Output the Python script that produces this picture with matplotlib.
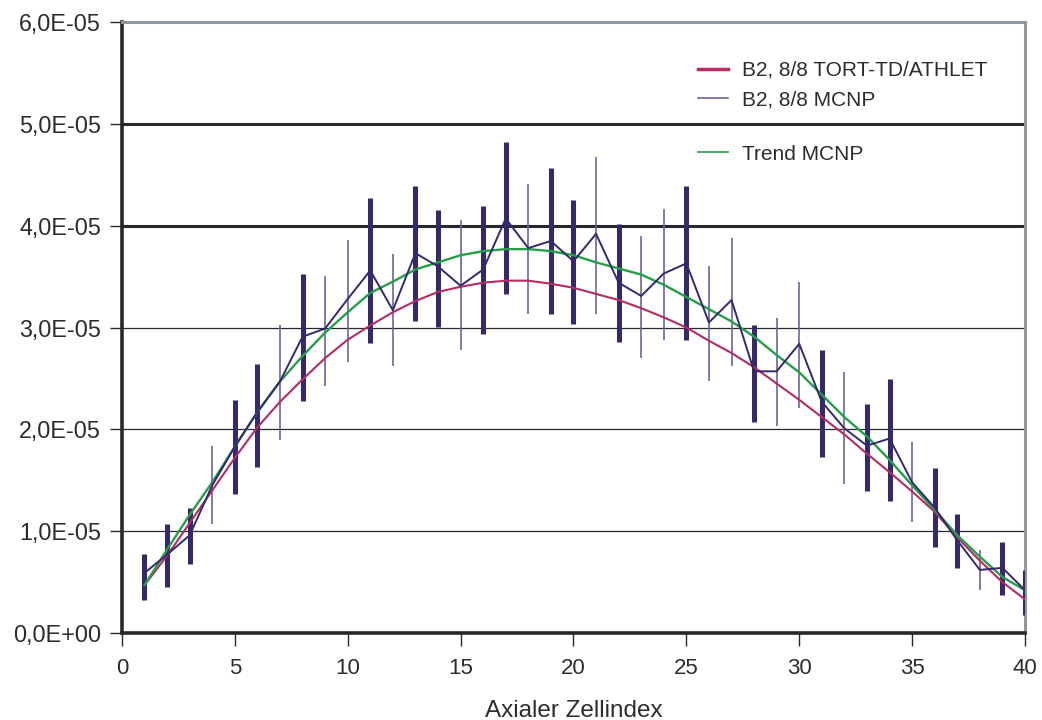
import matplotlib
matplotlib.use("Agg")
import matplotlib.pyplot as plt
from matplotlib.lines import Line2D
from matplotlib.ticker import FuncFormatter, MultipleLocator

# ---------------- data ----------------
cell = list(range(1, 41))

tort_athlet = [0.47, 0.76, 1.08, 1.40, 1.72, 2.02, 2.27, 2.49, 2.70, 2.88,
               3.02, 3.15, 3.26, 3.35, 3.40, 3.44, 3.46, 3.46, 3.43, 3.39,
               3.33, 3.27, 3.19, 3.10, 3.00, 2.87, 2.75, 2.61, 2.45, 2.29,
               2.12, 1.95, 1.76, 1.58, 1.39, 1.19, 0.94, 0.71, 0.50, 0.33]

mcnp = [0.59, 0.77, 0.96, 1.45, 1.83, 2.17, 2.47, 2.91, 2.99, 3.28,
        3.56, 3.17, 3.73, 3.60, 3.41, 3.57, 4.07, 3.78, 3.85, 3.65,
        3.92, 3.44, 3.31, 3.53, 3.63, 3.05, 3.27, 2.57, 2.57, 2.84,
        2.27, 2.01, 1.84, 1.91, 1.48, 1.23, 0.91, 0.62, 0.64, 0.42]

mcnp_hi = [0.78, 1.07, 1.23, 1.84, 2.29, 2.64, 3.02, 3.53, 3.51, 3.86,
           4.27, 3.72, 4.39, 4.15, 4.06, 4.19, 4.82, 4.41, 4.57, 4.25,
           4.67, 4.02, 3.90, 4.16, 4.39, 3.60, 3.88, 3.02, 3.09, 3.45,
           2.78, 2.56, 2.25, 2.49, 1.88, 1.62, 1.17, 0.82, 0.89, 0.62]

mcnp_lo = [0.32, 0.45, 0.68, 1.07, 1.37, 1.63, 1.90, 2.28, 2.43, 2.66,
           2.85, 2.62, 3.06, 3.01, 2.78, 2.94, 3.33, 3.13, 3.13, 3.03,
           3.13, 2.86, 2.70, 2.88, 2.88, 2.47, 2.62, 2.07, 2.03, 2.21,
           1.73, 1.46, 1.39, 1.30, 1.09, 0.84, 0.64, 0.42, 0.37, 0.18]

trend_mcnp = [0.47, 0.82, 1.16, 1.48, 1.83, 2.17, 2.47, 2.72, 2.95, 3.15,
              3.34, 3.45, 3.57, 3.64, 3.71, 3.75, 3.77, 3.77, 3.75, 3.71,
              3.64, 3.58, 3.52, 3.42, 3.30, 3.18, 3.06, 2.91, 2.73, 2.56,
              2.34, 2.12, 1.93, 1.70, 1.45, 1.21, 0.96, 0.75, 0.55, 0.42]

scale = 1e-5
labels = ["B2, 8/8 TORT-TD/ATHLET", "B2, 8/8 MCNP", "Trend MCNP"]
xlabel = "Axialer Zellindex"

# ---------------- style ----------------
plt.rcParams['font.family'] = ['Liberation Sans', 'DejaVu Sans']
c_red = "#b82a62"
c_navy = "#35286f"
c_navy_light = "#6d62a6"
c_green = "#23a046"
c_text = "#2a2d30"
c_axis = "#25292c"
# thick (True) / thin (False) error bars as seen in the scan
bar_thick = [True, True, True, False, True, True, False, True, False, False,
             True, False, True, True, False, True, True, False, True, True,
             False, True, False, False, True, False, False, True, False, False,
             True, False, True, True, False, True, True, False, True, True]

fig = plt.figure(figsize=(10.42, 7.2), dpi=100)
ax = fig.add_axes([0.117, 0.1208, 0.8667, 0.8486])

ys = lambda arr: [v * scale for v in arr]

# grid lines
for g in [1, 2, 3]:
    ax.axhline(g * scale, color=c_axis, lw=0.9, zorder=1)
for g in [4, 5]:
    ax.axhline(g * scale, color=c_axis, lw=2.2, zorder=1)

# error bars
for xi, lo, hi, thick in zip(cell, mcnp_lo, mcnp_hi, bar_thick):
    ax.vlines(xi, lo * scale, hi * scale,
              color=c_navy if thick else c_navy_light,
              lw=3.6 if thick else 1.2, zorder=3)

ax.plot(cell, ys(tort_athlet), color=c_red, lw=1.5, zorder=4)
ax.plot(cell, ys(trend_mcnp), color=c_green, lw=1.7, zorder=4)
ax.plot(cell, ys(mcnp), color=c_navy, lw=1.4, zorder=5)

ax.set_xlim(0, 40)
ax.set_ylim(0, 6 * scale)
ax.xaxis.set_major_locator(MultipleLocator(5))
ax.yaxis.set_major_locator(MultipleLocator(1 * scale))

def yfmt(v, pos):
    s = "%.1E" % v
    return s.replace(".", ",")
ax.yaxis.set_major_formatter(FuncFormatter(yfmt))

ax.tick_params(axis='both', direction='out', colors=c_axis, labelcolor=c_text,
               labelsize=16, length=9, width=1.0)
ax.tick_params(axis='y', labelsize=16.8, pad=6)
ax.tick_params(axis='x', pad=9)
for sp in ['left', 'bottom']:
    ax.spines[sp].set_color(c_axis)
    ax.spines[sp].set_linewidth(2.6)
for sp in ['top', 'right']:
    ax.spines[sp].set_color("#8f979c")
    ax.spines[sp].set_linewidth(2.2)

ax.set_xlabel(xlabel, fontsize=17.5, color=c_text, labelpad=15)

# legend (two blocks: entries 1-2 and entry 3 separated by a gap)
h1 = [Line2D([], [], color=c_red, lw=2.5), Line2D([], [], color=c_navy_light, lw=1.2)]
leg1 = ax.legend(h1, labels[:2], loc='upper left', bbox_to_anchor=(0.617, 0.967),
                 frameon=False, fontsize=15, handlelength=1.45, labelspacing=0.5,
                 handletextpad=0.65, labelcolor=c_text)
ax.add_artist(leg1)
h2 = [Line2D([], [], color=c_green, lw=1.2)]
ax.legend(h2, labels[2:], loc='upper left', bbox_to_anchor=(0.617, 0.830),
          frameon=False, fontsize=15, handlelength=1.45,
          handletextpad=0.65, labelcolor=c_text)

fig.canvas.draw()
ylabs = ax.get_yticklabels()
ylabs[0].set_fontweight('bold')

fig.savefig("out.png", dpi=100)
